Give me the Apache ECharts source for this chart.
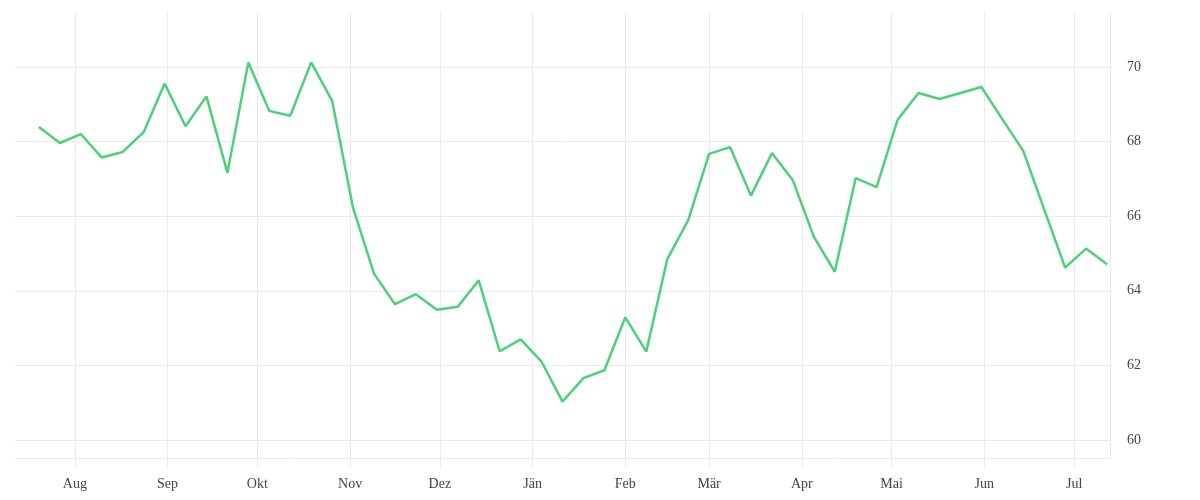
<!DOCTYPE html>
<html>
<head>
<meta charset="utf-8">
<style>
    html, body { margin: 0; padding: 0; background: #fff; }
    #chart { width: 1200px; height: 500px; }
</style>
</head>
<body>
<div id="chart"></div>
<script src="https://cdn.jsdelivr.net/npm/echarts@6/dist/echarts.min.js"></script>
<script>
    // weekly readings, Jul 2022 - Jul 2023
    var weeks = [
        '2022-07-20', '2022-07-27', '2022-08-03', '2022-08-10', '2022-08-17', '2022-08-24', '2022-08-31',
        '2022-09-07', '2022-09-14', '2022-09-21', '2022-09-28', '2022-10-05', '2022-10-12', '2022-10-19',
        '2022-10-26', '2022-11-02', '2022-11-09', '2022-11-16', '2022-11-23', '2022-11-30', '2022-12-07',
        '2022-12-14', '2022-12-21', '2022-12-28', '2023-01-04', '2023-01-11', '2023-01-18', '2023-01-25',
        '2023-02-01', '2023-02-08', '2023-02-15', '2023-02-22', '2023-03-01', '2023-03-08', '2023-03-15',
        '2023-03-22', '2023-03-29', '2023-04-05', '2023-04-12', '2023-04-19', '2023-04-26', '2023-05-03',
        '2023-05-10', '2023-05-17', '2023-05-24', '2023-05-31', '2023-06-07', '2023-06-14', '2023-06-21',
        '2023-06-28', '2023-07-05', '2023-07-12'
    ];
    var values = [
        68.39, 67.96, 68.20, 67.57, 67.72, 68.25, 69.55,
        68.41, 69.21, 67.16, 70.12, 68.82, 68.69, 70.12,
        69.09, 66.22, 64.46, 63.64, 63.91, 63.49, 63.57,
        64.28, 62.38, 62.70, 62.10, 61.03, 61.66, 61.87,
        63.29, 62.37, 64.84, 65.89, 67.67, 67.85, 66.55,
        67.69, 66.96, 65.45, 64.51, 67.02, 66.78, 68.58,
        69.30, 69.14, 69.30, 69.46, 68.60, 67.75, 66.18,
        64.62, 65.13, 64.71
    ];
    var monthNames = ['Jän', 'Feb', 'Mär', 'Apr', 'Mai', 'Jun', 'Jul', 'Aug', 'Sep', 'Okt', 'Nov', 'Dez'];

    var gridColor = '#ebebeb';
    var textStyle = { color: '#444', fontFamily: 'Liberation Serif', fontSize: 14 };
    var DAY = 86400000;

    var myChart = echarts.init(document.getElementById('chart'));
    var option = {
        animation: false,
        grid: { left: 15, right: 90, top: 12, bottom: 42 },
        xAxis: {
            type: 'time',
            min: '2022-07-12',
            max: '2023-07-13',
            splitNumber: 12,
            maxInterval: 31 * DAY,
            axisLine: { show: true, lineStyle: { color: gridColor, width: 1 } },
            axisTick: { show: true, length: 10, lineStyle: { color: gridColor } },
            splitLine: { show: true, showMinLine: false, lineStyle: { color: gridColor, width: 1 } },
            axisLabel: Object.assign({
                margin: 19,
                hideOverlap: false,
                formatter: function (v) {
                    var d = new Date(v);
                    return d.getDate() === 1 ? monthNames[d.getMonth()] : '';
                }
            }, textStyle)
        },
        yAxis: {
            type: 'value',
            position: 'right',
            min: 59.52,
            max: 71.47,
            axisLine: { show: false },
            axisTick: { show: false },
            splitLine: { show: true, showMinLine: false, showMaxLine: false, lineStyle: { color: gridColor, width: 1 } },
            axisLabel: Object.assign({
                margin: 17,
                padding: [4, 0, 0, 0],
                showMinLabel: false,
                showMaxLabel: false,
                formatter: function (v) { return Math.round(v) === v ? String(v) : ''; }
            }, textStyle)
        },
        series: [{
            type: 'line',
            data: weeks.map(function (d, i) { return [d, values[i]]; }),
            showSymbol: false,
            symbol: 'none',
            lineStyle: { color: '#4cd178', width: 2.5 },
            itemStyle: { color: '#4cd178' }
        }]
    };
    myChart.setOption(option);
</script>
</body>
</html>
